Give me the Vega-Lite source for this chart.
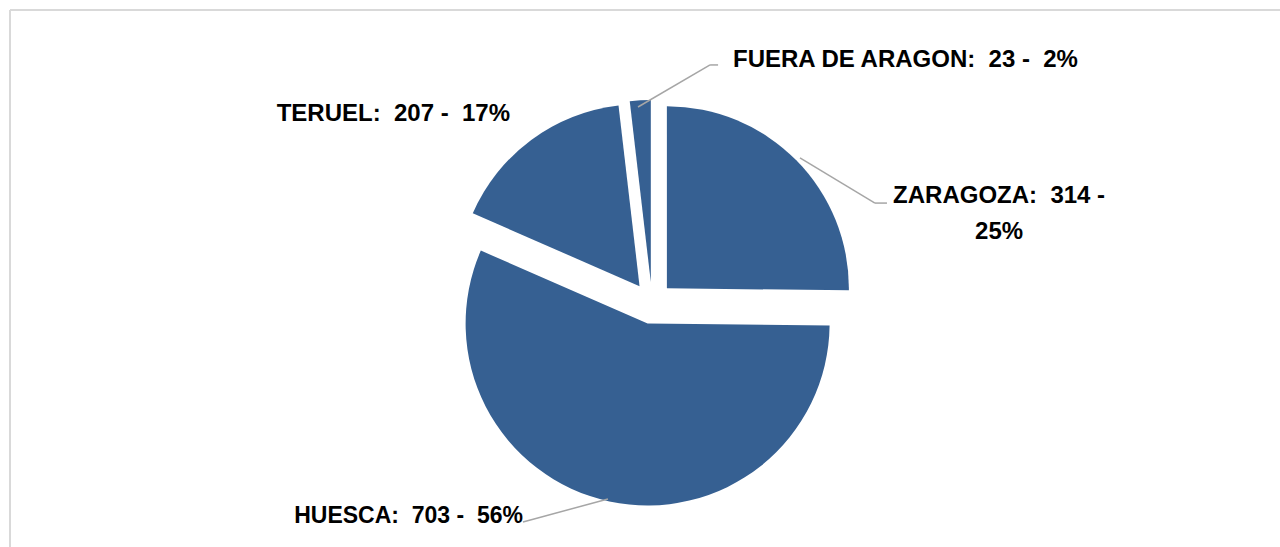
{
  "$schema": "https://vega.github.io/schema/vega-lite/v6.json",
  "width": 1270,
  "height": 537,
  "autosize": "none",
  "padding": {"left": 10, "top": 10, "right": 0, "bottom": 0},
  "background": "white",
  "config": {
    "view": {"stroke": null},
    "text": {"font": "Liberation Sans", "fontWeight": "bold", "fontSize": 24, "color": "black"}
  },
  "data": {"values": [
    {"orden": 1, "provincia": "ZARAGOZA", "valor": 314},
    {"orden": 2, "provincia": "HUESCA", "valor": 703},
    {"orden": 3, "provincia": "TERUEL", "valor": 207},
    {"orden": 4, "provincia": "FUERA DE ARAGON", "valor": 23}
  ]},
  "transform": [
    {"joinaggregate": [{"op": "sum", "field": "valor", "as": "total"}]},
    {"window": [{"op": "sum", "field": "valor", "as": "fin"}], "sort": [{"field": "orden", "order": "ascending"}], "frame": [null, 0]},
    {"calculate": "datum.fin - datum.valor", "as": "inicio"},
    {"calculate": "PI * (datum.inicio + datum.fin) / datum.total", "as": "medio"},
    {"calculate": "0.115 * sin(datum.medio)", "as": "ex"},
    {"calculate": "0.115 * cos(datum.medio)", "as": "ey"},
    {"calculate": "round(100 * datum.valor / datum.total)", "as": "pct"},
    {"calculate": "datum.provincia == 'ZARAGOZA' ? [datum.provincia + ':\u00a0 ' + datum.valor + ' -', datum.pct + '%'] : datum.provincia + ':\u00a0 ' + datum.valor + ' -\u00a0 ' + datum.pct + '%'", "as": "etiqueta"}
  ],
  "layer": [
    {
      "mark": {"type": "arc", "radius": 182, "color": "#366092"},
      "encoding": {
        "theta": {"field": "fin", "type": "quantitative", "stack": null, "scale": {"nice": false, "zero": true}},
        "theta2": {"field": "inicio"},
        "x": {"field": "ex", "type": "quantitative", "scale": {"domain": [-3.5275, 3.4505], "nice": false, "zero": false}, "axis": null},
        "y": {"field": "ey", "type": "quantitative", "scale": {"domain": [-1.3407, 1.6099], "nice": false, "zero": false}, "axis": null}
      }
    },
    {
      "transform": [{"filter": "datum.provincia == 'FUERA DE ARAGON'"}],
      "mark": {"type": "text", "align": "left", "baseline": "alphabetic"},
      "encoding": {
        "text": {"field": "etiqueta"},
        "x": {"datum": 0.445, "type": "quantitative", "scale": {"domain": [-3.5275, 3.4505], "nice": false, "zero": false}, "axis": null},
        "y": {"datum": 1.297, "type": "quantitative", "scale": {"domain": [-1.3407, 1.6099], "nice": false, "zero": false}, "axis": null}
      }
    },
    {
      "transform": [{"filter": "datum.provincia == 'TERUEL'"}],
      "mark": {"type": "text", "align": "right", "baseline": "alphabetic"},
      "encoding": {
        "text": {"field": "etiqueta"},
        "x": {"datum": -0.78, "type": "quantitative", "scale": {"domain": [-3.5275, 3.4505], "nice": false, "zero": false}, "axis": null},
        "y": {"datum": 1.002, "type": "quantitative", "scale": {"domain": [-1.3407, 1.6099], "nice": false, "zero": false}, "axis": null}
      }
    },
    {
      "transform": [{"filter": "datum.provincia == 'ZARAGOZA'"}],
      "mark": {"type": "text", "align": "center", "baseline": "alphabetic", "lineHeight": 36},
      "encoding": {
        "text": {"field": "etiqueta"},
        "x": {"datum": 1.907, "type": "quantitative", "scale": {"domain": [-3.5275, 3.4505], "nice": false, "zero": false}, "axis": null},
        "y": {"datum": 0.548, "type": "quantitative", "scale": {"domain": [-1.3407, 1.6099], "nice": false, "zero": false}, "axis": null}
      }
    },
    {
      "transform": [{"filter": "datum.provincia == 'HUESCA'"}],
      "mark": {"type": "text", "align": "right", "baseline": "alphabetic", "fontSize": 23},
      "encoding": {
        "text": {"field": "etiqueta"},
        "x": {"datum": -0.709, "type": "quantitative", "scale": {"domain": [-3.5275, 3.4505], "nice": false, "zero": false}, "axis": null},
        "y": {"datum": -1.21, "type": "quantitative", "scale": {"domain": [-1.3407, 1.6099], "nice": false, "zero": false}, "axis": null}
      }
    },
    {
      "data": {"values": [{}]},
      "layer": [
        {
          "mark": {"type": "rule", "color": "#A6A6A6", "strokeWidth": 1.5},
          "encoding": {
            "x": {"datum": -0.077, "type": "quantitative", "scale": {"domain": [-3.5275, 3.4505], "nice": false, "zero": false}, "axis": null},
            "y": {"datum": 1.077, "type": "quantitative", "scale": {"domain": [-1.3407, 1.6099], "nice": false, "zero": false}, "axis": null},
            "x2": {"datum": 0.319},
            "y2": {"datum": 1.308}
          }
        },
        {
          "mark": {"type": "rule", "color": "#A6A6A6", "strokeWidth": 1.5},
          "encoding": {
            "x": {"datum": 0.319, "type": "quantitative", "scale": {"domain": [-3.5275, 3.4505], "nice": false, "zero": false}, "axis": null},
            "y": {"datum": 1.308, "type": "quantitative", "scale": {"domain": [-1.3407, 1.6099], "nice": false, "zero": false}, "axis": null},
            "x2": {"datum": 0.363},
            "y2": {"datum": 1.308}
          }
        },
        {
          "mark": {"type": "rule", "color": "#A6A6A6", "strokeWidth": 1.5},
          "encoding": {
            "x": {"datum": 0.813, "type": "quantitative", "scale": {"domain": [-3.5275, 3.4505], "nice": false, "zero": false}, "axis": null},
            "y": {"datum": 0.797, "type": "quantitative", "scale": {"domain": [-1.3407, 1.6099], "nice": false, "zero": false}, "axis": null},
            "x2": {"datum": 1.225},
            "y2": {"datum": 0.549}
          }
        },
        {
          "mark": {"type": "rule", "color": "#A6A6A6", "strokeWidth": 1.5},
          "encoding": {
            "x": {"datum": 1.225, "type": "quantitative", "scale": {"domain": [-3.5275, 3.4505], "nice": false, "zero": false}, "axis": null},
            "y": {"datum": 0.549, "type": "quantitative", "scale": {"domain": [-1.3407, 1.6099], "nice": false, "zero": false}, "axis": null},
            "x2": {"datum": 1.291},
            "y2": {"datum": 0.549}
          }
        },
        {
          "mark": {"type": "rule", "color": "#A6A6A6", "strokeWidth": 1.5},
          "encoding": {
            "x": {"datum": -0.709, "type": "quantitative", "scale": {"domain": [-3.5275, 3.4505], "nice": false, "zero": false}, "axis": null},
            "y": {"datum": -1.203, "type": "quantitative", "scale": {"domain": [-1.3407, 1.6099], "nice": false, "zero": false}, "axis": null},
            "x2": {"datum": -0.242},
            "y2": {"datum": -1.077}
          }
        },
        {
          "mark": {"type": "rule", "color": "#D9D9D9", "strokeWidth": 2},
          "encoding": {
            "x": {"datum": -3.5275, "type": "quantitative", "scale": {"domain": [-3.5275, 3.4505], "nice": false, "zero": false}, "axis": null}
          }
        },
        {
          "mark": {"type": "rule", "color": "#D9D9D9", "strokeWidth": 2},
          "encoding": {
            "y": {"datum": 1.6099, "type": "quantitative", "scale": {"domain": [-1.3407, 1.6099], "nice": false, "zero": false}, "axis": null}
          }
        }
      ]
    }
  ]
}
